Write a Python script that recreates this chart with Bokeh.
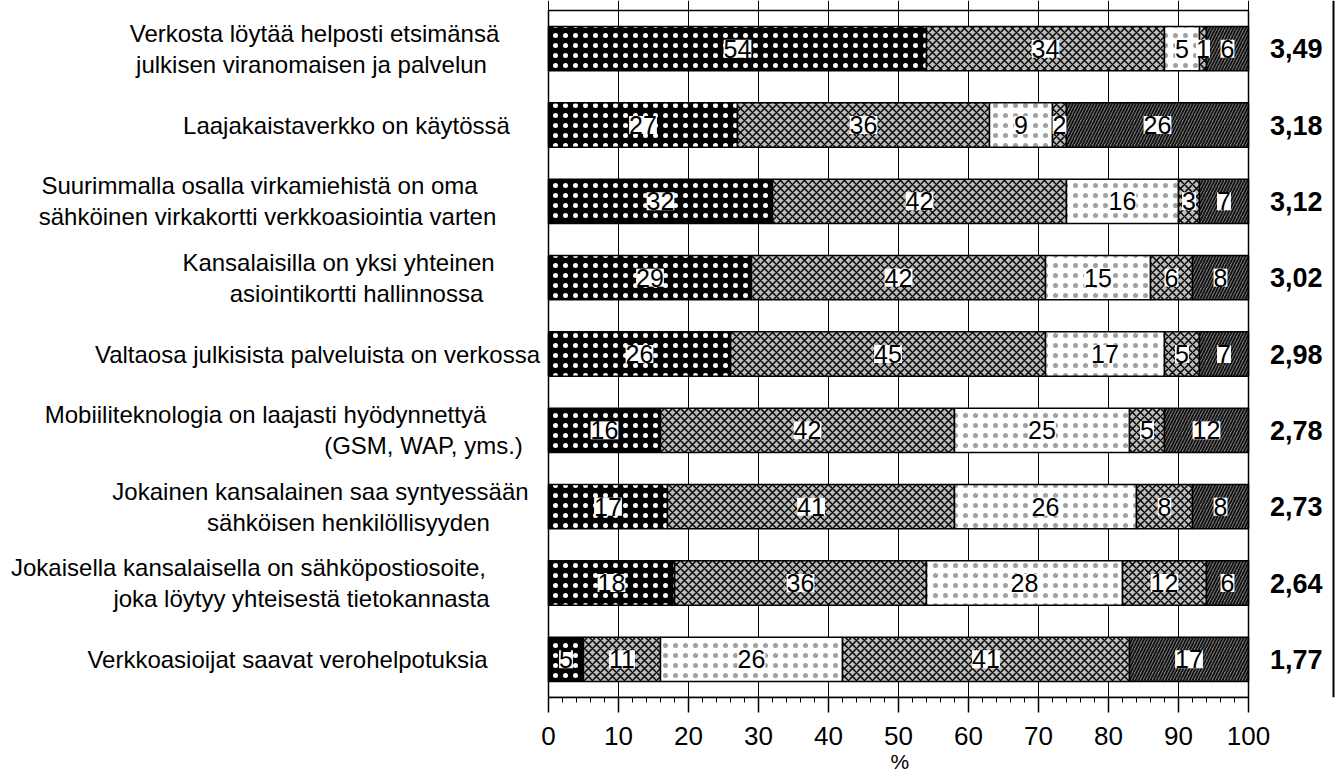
from bokeh.plotting import figure
from bokeh.models import ColumnDataSource, Range1d, FixedTicker, LabelSet, Title
from bokeh.core.properties import value
from bokeh.embed import file_html
from bokeh.resources import INLINE

# ---------------- data ----------------
statements = [
    ["Verkosta löytää helposti etsimänsä", "julkisen viranomaisen ja palvelun"],
    ["Laajakaistaverkko on käytössä"],
    ["Suurimmalla osalla virkamiehistä on oma", "sähköinen virkakortti verkkoasiointia varten"],
    ["Kansalaisilla on yksi yhteinen", "asiointikortti hallinnossa"],
    ["Valtaosa julkisista palveluista on verkossa"],
    ["Mobiiliteknologia on laajasti hyödynnettyä", "(GSM, WAP, yms.)"],
    ["Jokainen kansalainen saa syntyessään", "sähköisen henkilöllisyyden"],
    ["Jokaisella kansalaisella on sähköpostiosoite,", "joka löytyy yhteisestä tietokannasta"],
    ["Verkkoasioijat saavat verohelpotuksia"],
]
s1 = [54, 27, 32, 29, 26, 16, 17, 18, 5]
s2 = [34, 36, 42, 42, 45, 42, 41, 36, 11]
s3 = [5, 9, 16, 15, 17, 25, 26, 28, 26]
s4 = [1, 2, 3, 6, 5, 5, 8, 12, 41]
s5 = [6, 26, 7, 8, 7, 12, 8, 6, 17]
means = ["3,49", "3,18", "3,12", "3,02", "2,98", "2,78", "2,73", "2,64", "1,77"]
x_ticks = [0, 10, 20, 30, 40, 50, 60, 70, 80, 90, 100]
x_label = "%"

# ---------------- layout ----------------
PX0, PXU = 548.0, 7.0           # page x of value 0, pixels per unit
FRAME_W, FRAME_H = 1340, 697
TOP_PX = 10.0                    # page y of the chart's top edge
YU = 9.0 / 687.0                 # data units per pixel (vertical)
x_start = -PX0 / PXU
x_end = (FRAME_W - PX0) / PXU
y_end = 9.0 + TOP_PX * YU

def px2x(px):
    return (px - PX0) / PXU

# centre of each label line (page px)
label_centers = [[314, 311], [346], [259, 267], [338, 356], [317],
                 [265, 423], [320, 348], [248, 301], [287]]
LINE_OFF = 15.5

series = [s1, s2, s3, s4, s5]
n = len(s1)
ys = [8.5 - i for i in range(n)]

styles = [
    dict(fill_color="black", hatch_pattern="dot", hatch_color="white", hatch_scale=10, hatch_weight=2),
    dict(fill_color="#bababa", hatch_pattern="diagonal_cross", hatch_color="black", hatch_scale=8, hatch_weight=1.4),
    dict(fill_color="#ffffff", hatch_pattern="dot", hatch_color="#a0a0a0", hatch_scale=10, hatch_weight=1),
    dict(fill_color="#bcbcbc", hatch_pattern="diagonal_cross", hatch_color="black", hatch_scale=8, hatch_weight=1.4),
    dict(fill_color="#7c7c7c", hatch_pattern="right_diagonal_line", hatch_color="#111111", hatch_scale=6, hatch_weight=1.8),
]

p = figure(frame_width=FRAME_W, frame_height=FRAME_H,
           x_range=Range1d(x_start, x_end), y_range=Range1d(0, y_end),
           y_axis_location=None, output_backend="svg", toolbar_location=None,
           min_border_left=0, min_border_right=0, min_border_top=0, min_border_bottom=0)
p.outline_line_color = None
p.background_fill_color = "white"
p.border_fill_color = "white"

ticker = FixedTicker(ticks=x_ticks, minor_ticks=list(range(0, 101, 2)))
p.xgrid.ticker = ticker
p.xgrid.bounds = (0, 100)
p.xgrid.grid_line_color = "black"
p.xgrid.grid_line_width = 1
p.ygrid.visible = False

ax = p.xaxis[0]
ax.ticker = ticker
ax.bounds = (0, 100)
ax.axis_line_color = "black"
ax.axis_line_width = 1.5
ax.major_tick_in = 0
ax.major_tick_out = 15
ax.major_tick_line_width = 1.5
ax.major_tick_line_color = "black"
ax.minor_tick_in = 0
ax.minor_tick_out = 5
ax.minor_tick_line_color = "black"
ax.major_label_text_font = "Liberation Sans"
ax.major_label_text_font_size = "26px"
ax.major_label_text_color = "black"
ax.major_label_standoff = 14

# "%" title centred under x = 50 (page x 898)
pct = Title(text=x_label, align="left", offset=PX0 + 50 * PXU - 8,
            text_font="Liberation Sans", text_font_size="21px", text_font_style="normal",
            text_color="black", standoff=0)
p.add_layout(pct, "below")

# stacked bars
left = [0.0] * n
lab_x, lab_y, lab_t = [], [], []
for vals, st in zip(series, styles):
    right = [l + v for l, v in zip(left, vals)]
    src = ColumnDataSource(dict(y=ys, left=left, right=right))
    p.hbar(y="y", left="left", right="right", height=0.58, source=src,
           line_color="black", line_width=1.5, **st)
    for i in range(n):
        lab_x.append((left[i] + right[i]) / 2)
        lab_y.append(ys[i])
        lab_t.append(str(vals[i]))
    left = right

labels = LabelSet(x="x", y="y", text="t", source=ColumnDataSource(dict(x=lab_x, y=lab_y, t=lab_t)),
                  text_align="center", text_baseline="middle",
                  text_font=value("Liberation Sans"), text_font_size="25px", text_color="black",
                  background_fill_color="white", background_fill_alpha=1.0)
p.add_layout(labels)

# frame outline around 0..100
p.quad(left=[0], right=[100], bottom=[0], top=[9], fill_color=None, line_color="black", line_width=1.5)

# statement labels
tx, ty, tt = [], [], []
for i, lines in enumerate(statements):
    k = len(lines)
    for j, line in enumerate(lines):
        off = 0 if k == 1 else (-LINE_OFF if j == 0 else LINE_OFF)
        tx.append(px2x(label_centers[i][j]))
        ty.append(ys[i] - off * YU)
        tt.append(line)
p.text(x="x", y="y", text="t", source=ColumnDataSource(dict(x=tx, y=ty, t=tt)),
       text_font=value("Liberation Sans"), text_font_size="24px", text_color="black",
       text_align="center", text_baseline="middle")

# mean values
p.text(x=[px2x(1322)] * n, y=ys, text=means,
       text_font=value("Liberation Sans"), text_font_size="27px", text_font_style="bold",
       text_color="black", text_align="right", text_baseline="middle")

# right page border line
p.segment(x0=[px2x(1333)], y0=[0], x1=[px2x(1333)], y1=[y_end], line_color="black", line_width=2)

open("out.html", "w").write(file_html(p, INLINE))
